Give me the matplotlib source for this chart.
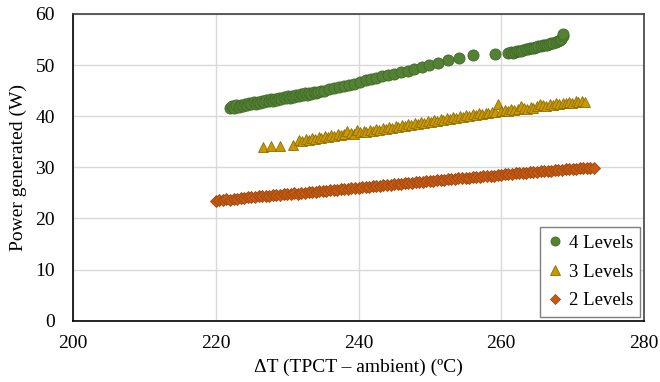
import matplotlib
matplotlib.use("Agg")
import matplotlib.pyplot as plt
from matplotlib.lines import Line2D

# ---- data: 4 Levels (green circles) ----
x4 = [222.0, 222.3, 222.6, 222.9, 223.2, 223.5, 223.8, 224.1, 224.4, 224.7,
      225.0, 225.3, 225.6, 225.9, 226.2, 226.5, 226.8, 227.1, 227.4, 227.7,
      228.0, 228.3, 228.6, 228.9, 229.2, 229.5, 229.8, 230.1, 230.4, 230.7,
      231.0, 231.3, 231.6, 231.9, 232.2, 232.5, 232.8, 233.1, 233.4, 233.7,
      234.0, 234.3, 234.7, 235.2,
      235.9, 236.6, 237.3, 238.0, 238.7, 239.4, 240.2, 241.0, 241.8, 242.5,
      243.3, 244.1, 245.0, 245.9, 246.9, 247.8, 248.9, 249.9, 251.1, 252.6,
      254.1, 256.0, 259.1,
      261.0, 261.3, 261.6, 261.9, 262.2, 262.5, 262.8, 263.1, 263.4, 263.7,
      264.0, 264.3, 264.6, 264.9, 265.2, 265.5, 265.8, 266.1, 266.4, 266.7,
      267.0, 267.3, 267.6, 267.9, 268.2, 268.4, 268.6, 268.7]
y4 = [41.6, 42.0, 41.7, 42.1, 41.9, 42.2, 42.0, 42.4, 42.1, 42.5,
      42.3, 42.7, 42.4, 42.8, 42.6, 43.0, 42.7, 43.1, 42.9, 43.3,
      43.0, 43.4, 43.2, 43.6, 43.3, 43.7, 43.5, 43.9, 43.6, 44.0,
      43.8, 44.2, 43.9, 44.3, 44.1, 44.5, 44.2, 44.6, 44.3, 44.7,
      44.6, 44.8, 44.9, 45.0,
      45.3, 45.5, 45.7, 46.0, 46.2, 46.4, 46.7, 47.0, 47.2, 47.5,
      47.8, 48.0, 48.3, 48.6, 48.9, 49.3, 49.6, 50.0, 50.4, 50.9,
      51.4, 51.9, 52.2,
      52.3, 52.5, 52.4, 52.6, 52.7, 52.8, 52.8, 53.0, 53.1, 53.1,
      53.3, 53.4, 53.4, 53.6, 53.7, 53.7, 53.9, 54.0, 54.0, 54.2,
      54.3, 54.4, 54.6, 54.7, 54.9, 55.2, 55.6, 56.0]

# ---- data: 3 Levels (gold triangles) ----
x3 = [226.6, 227.8, 229.0, 230.8,
      231.7, 232.1, 232.6, 233.0, 233.5, 233.9, 234.4, 234.8, 235.3, 235.7,
      236.2, 236.6, 237.1, 237.5, 238.0, 238.4, 238.9, 239.3, 239.8, 240.2,
      240.7, 241.1, 241.6, 242.0, 242.5, 242.9, 243.4, 243.8, 244.3, 244.7,
      245.2, 245.6, 246.1, 246.5, 247.0, 247.4, 247.9, 248.3, 248.8, 249.2,
      249.7, 250.1, 250.6, 251.0, 251.5, 251.9, 252.4, 252.8, 253.3, 253.7,
      254.2, 254.6, 255.1, 255.5, 256.0, 256.4, 256.9, 257.3, 257.8, 258.2,
      258.7, 259.1, 259.6, 260.0, 260.5, 260.9, 261.4, 261.8, 262.3, 262.7,
      263.2, 263.6, 264.1, 264.5, 265.0, 265.4, 265.9, 266.3, 266.8, 267.2,
      267.7, 268.1, 268.6, 269.0, 269.5, 269.9, 270.4, 270.8, 271.3, 271.7]
y3 = [34.0, 34.1, 34.2, 34.4,
      35.3, 35.2, 35.6, 35.4, 35.8, 35.6, 36.0, 35.8, 36.1, 35.9,
      36.3, 36.1, 36.5, 36.3, 36.6, 37.2, 36.7, 36.6, 37.4, 36.9,
      37.1, 37.0, 37.3, 37.1, 37.5, 37.3, 37.7, 37.5, 37.9, 37.7,
      38.0, 37.9, 38.2, 38.1, 38.4, 38.3, 38.6, 38.5, 38.8, 38.7,
      39.0, 38.9, 39.2, 39.1, 39.4, 39.3, 39.6, 39.5, 39.8, 39.7,
      40.0, 39.9, 40.2, 40.1, 40.4, 40.3, 40.6, 40.4, 40.7, 40.6,
      40.9, 40.8, 42.3, 41.0, 41.2, 41.0, 41.4, 41.2, 41.5, 42.0,
      41.6, 41.5, 41.8, 41.7, 42.0, 42.4, 42.1, 42.0, 42.3, 42.2,
      42.5, 42.3, 42.6, 42.5, 42.8, 42.6, 42.9, 42.8, 42.9, 42.8]

# ---- data: 2 Levels (orange diamonds) ----
x2 = [220.0, 220.5, 221.0, 221.5, 222.0, 222.5, 223.0, 223.5, 224.0, 224.5,
      225.0, 225.5, 226.0, 226.5, 227.0, 227.5, 228.0, 228.5, 229.0, 229.5,
      230.0, 230.5, 231.0, 231.5, 232.0, 232.5, 233.0, 233.5, 234.0, 234.5,
      235.0, 235.5, 236.0, 236.5, 237.0, 237.5, 238.0, 238.5, 239.0, 239.5,
      240.0, 240.5, 241.0, 241.5, 242.0, 242.5, 243.0, 243.5, 244.0, 244.5,
      245.0, 245.5, 246.0, 246.5, 247.0, 247.5, 248.0, 248.5, 249.0, 249.5,
      250.0, 250.5, 251.0, 251.5, 252.0, 252.5, 253.0, 253.5, 254.0, 254.5,
      255.0, 255.5, 256.0, 256.5, 257.0, 257.5, 258.0, 258.5, 259.0, 259.5,
      260.0, 260.5, 261.0, 261.5, 262.0, 262.5, 263.0, 263.5, 264.0, 264.5,
      265.0, 265.5, 266.0, 266.5, 267.0, 267.5, 268.0, 268.5, 269.0, 269.5,
      270.0, 270.5, 271.0, 271.5, 272.0, 272.5, 273.0]
y2 = [23.5, 23.6, 23.6, 23.8, 23.7, 23.9, 23.9, 24.0, 24.0, 24.1,
      24.2, 24.1, 24.3, 24.3, 24.4, 24.4, 24.5, 24.6, 24.5, 24.7,
      24.7, 24.8, 24.9, 24.8, 25.0, 25.0, 25.1, 25.2, 25.1, 25.3,
      25.3, 25.4, 25.5, 25.5, 25.6, 25.7, 25.7, 25.8, 25.9, 25.9,
      26.0, 26.1, 26.1, 26.2, 26.3, 26.3, 26.4, 26.5, 26.5, 26.6,
      26.7, 26.7, 26.8, 26.9, 26.9, 27.0, 27.1, 27.1, 27.2, 27.3,
      27.3, 27.4, 27.5, 27.5, 27.6, 27.7, 27.7, 27.8, 27.9, 27.9,
      28.0, 28.0, 28.1, 28.1, 28.2, 28.3, 28.3, 28.4, 28.4, 28.5,
      28.5, 28.6, 28.7, 28.7, 28.8, 28.8, 28.9, 28.9, 29.0, 29.1,
      29.1, 29.2, 29.2, 29.3, 29.3, 29.4, 29.5, 29.5, 29.6, 29.6,
      29.7, 29.7, 29.8, 29.8, 29.9, 29.9, 29.9]

labels = ["4 Levels", "3 Levels", "2 Levels"]
x_ticks = [200, 220, 240, 260, 280]
y_ticks = [0, 10, 20, 30, 40, 50, 60]

plt.rcParams['font.family'] = ['Liberation Serif', 'DejaVu Serif']

fig = plt.figure(figsize=(6.6, 3.82), dpi=100)
ax = fig.add_axes([0.1106, 0.1605, 0.8652, 0.8029])

green, green_e = '#548235', '#3f6a26'
gold, gold_e = '#c99a00', '#8f6c00'
orange, orange_e = '#c55a11', '#9c4610'

ax.plot(x2, y2, linestyle='none', marker='D', ms=6.5, mfc=orange, mec=orange_e, mew=0.6, zorder=3)
ax.plot(x3, y3, linestyle='none', marker='^', ms=7.5, mfc=gold, mec=gold_e, mew=0.6, zorder=3)
ax.plot(x4, y4, linestyle='none', marker='o', ms=8, mfc=green, mec=green_e, mew=0.6, zorder=3)

ax.set_xlim(200, 280)
ax.set_ylim(0, 60)
ax.set_xticks(x_ticks)
ax.set_yticks(y_ticks)
ax.grid(True, color='#d9d9d9', linewidth=1.0)
ax.set_axisbelow(True)
ax.tick_params(length=0, labelsize=14, colors='black')
ax.tick_params(axis='y', pad=13)
ax.tick_params(axis='x', pad=10)
for s in ['left', 'bottom']:
    ax.spines[s].set_color('black')
    ax.spines[s].set_linewidth(1.2)
for s in ['top', 'right']:
    ax.spines[s].set_color('#404040')
    ax.spines[s].set_linewidth(1.2)

ax.set_xlabel('ΔT (TPCT – ambient) (ºC)', fontsize=14, labelpad=5)
ax.set_ylabel('Power generated (W)', fontsize=14, labelpad=6)

handles = [
    Line2D([], [], linestyle='none', marker='o', ms=6.5, mfc=green, mec=green_e, mew=0.6),
    Line2D([], [], linestyle='none', marker='^', ms=6.5, mfc=gold, mec=gold_e, mew=0.6),
    Line2D([], [], linestyle='none', marker='D', ms=5.5, mfc=orange, mec=orange_e, mew=0.6),
]
leg = ax.legend(handles, labels, loc='lower right', fontsize=13.5, frameon=True,
                fancybox=False, edgecolor='#7f7f7f', framealpha=1,
                borderaxespad=0.2, handlelength=0.8, handletextpad=0.3,
                labelspacing=0.62, borderpad=0.4)
leg.get_frame().set_linewidth(1.0)

fig.savefig('out.png', dpi=100)
